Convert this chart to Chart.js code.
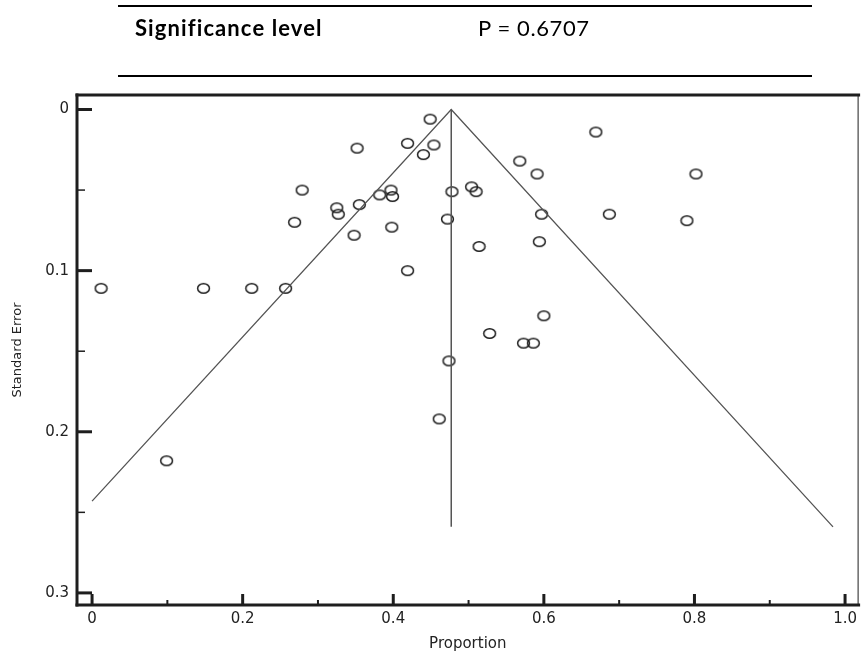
<!DOCTYPE html>
<html>
<head>
<meta charset="utf-8">
<script src="https://cdn.jsdelivr.net/npm/chart.js@4.4.1/dist/chart.umd.min.js"></script>
<style>
  html, body { margin: 0; padding: 0; background: #fff; }
  #wrap { position: relative; width: 862px; height: 651px; overflow: hidden; }
  #funnel { position: absolute; left: 0; top: 0; }
  .rule { position: absolute; left: 118px; width: 694px; height: 2px; background: #000; }
  .hdr { position: absolute; top: 17px; font-family: Lato, "Noto Sans", sans-serif; font-size: 22px; line-height: 21px; color: #000; white-space: nowrap; }
</style>
</head>
<body>
<div id="wrap">
  <canvas id="funnel" width="862" height="651"></canvas>
  <div class="rule" style="top:5px"></div>
  <div class="rule" style="top:75px"></div>
  <div class="hdr" style="left:135px;font-weight:bold;letter-spacing:1.1px">Significance level</div>
  <div class="hdr" style="left:478px;letter-spacing:0.6px">P = 0.6707</div>
</div>
<script>
// study proportions and their standard errors
const proportions = [0.012, 0.148, 0.212, 0.257, 0.099, 0.269, 0.279, 0.325, 0.327, 0.352,
  0.355, 0.348, 0.382, 0.397, 0.399, 0.398, 0.419, 0.419, 0.440, 0.449,
  0.454, 0.472, 0.478, 0.504, 0.510, 0.514, 0.528, 0.568, 0.591, 0.597,
  0.594, 0.600, 0.573, 0.586, 0.474, 0.461, 0.669, 0.687, 0.802, 0.790];
const stdErrors = [0.111, 0.111, 0.111, 0.111, 0.218, 0.070, 0.050, 0.061, 0.065, 0.024,
  0.059, 0.078, 0.053, 0.050, 0.054, 0.073, 0.021, 0.100, 0.028, 0.006,
  0.022, 0.068, 0.051, 0.048, 0.051, 0.085, 0.139, 0.032, 0.040, 0.065,
  0.082, 0.128, 0.145, 0.145, 0.156, 0.192, 0.014, 0.065, 0.040, 0.069];

// pooled estimate and the 95% limits (left limit stops at 0)
const funnelX = [0, 0.477, 0.984];
const funnelY = [0.243, 0, 0.259];
const pooledX = [0.477, 0.477];
const pooledY = [0, 0.259];

const xTicks = [0, 0.2, 0.4, 0.6, 0.8, 1.0];
const xMinor = [0.1, 0.3, 0.5, 0.7, 0.9];
const yTicks = [0, 0.1, 0.2, 0.3];
const yMinor = [0.05, 0.15, 0.25];

const ink = "#1e1e1e";
const axisFont = { family: "'DejaVu Sans', sans-serif", size: 15 };

// open ellipse marker, a bit wider than tall like the original
function ring() {
  const c = document.createElement("canvas");
  c.width = 15;
  c.height = 13;
  const g = c.getContext("2d");
  g.strokeStyle = ink;
  g.lineWidth = 1.5;
  g.beginPath();
  g.ellipse(7.5, 6.5, 5.9, 4.8, 0, 0, Math.PI * 2);
  g.stroke();
  return c;
}

function zip(xs, ys) {
  return xs.map((v, i) => ({ x: v, y: ys[i] }));
}

// box around the plot plus inward tick marks
const frame = {
  id: "frame",
  afterDraw(chart) {
    const { ctx, chartArea: a } = chart;
    const x = chart.scales.x;
    const y = chart.scales.y;
    const seg = (x1, y1, x2, y2) => {
      ctx.beginPath();
      ctx.moveTo(x1, y1);
      ctx.lineTo(x2, y2);
      ctx.stroke();
    };
    ctx.save();
    ctx.strokeStyle = ink;
    ctx.lineCap = "square";

    ctx.lineWidth = 1;
    seg(a.right - 0.5, a.top, a.right - 0.5, a.bottom);
    ctx.lineWidth = 3;
    seg(a.left, a.top, a.right, a.top);
    seg(a.left, a.top, a.left, a.bottom);
    seg(a.left, a.bottom, a.right, a.bottom);

    ctx.lineCap = "butt";
    ctx.lineWidth = 3;
    yTicks.forEach(v => {
      const p = y.getPixelForValue(v);
      seg(a.left, p, a.left + 15, p);
    });
    xTicks.forEach(v => {
      const p = x.getPixelForValue(v);
      seg(p, a.bottom, p, a.bottom - 11);
    });
    ctx.lineWidth = 1.5;
    yMinor.forEach(v => {
      const p = y.getPixelForValue(v);
      seg(a.left, p, a.left + 8, p);
    });
    ctx.lineWidth = 2;
    xMinor.forEach(v => {
      const p = x.getPixelForValue(v);
      seg(p, a.bottom, p, a.bottom - 5);
    });
    ctx.restore();
  }
};

new Chart(document.getElementById("funnel"), {
  type: "scatter",
  data: {
    datasets: [
      {
        type: "line",
        data: zip(funnelX, funnelY),
        borderColor: "#555",
        borderWidth: 1.3,
        pointRadius: 0,
        fill: false
      },
      {
        type: "line",
        data: zip(pooledX, pooledY),
        borderColor: "#555",
        borderWidth: 1.5,
        pointRadius: 0,
        fill: false
      },
      {
        data: zip(proportions, stdErrors),
        pointStyle: ring(),
        pointRadius: 6
      }
    ]
  },
  options: {
    responsive: false,
    animation: false,
    layout: { autoPadding: false, padding: { top: 95, right: 1, bottom: 0, left: 0 } },
    plugins: { legend: { display: false }, tooltip: { enabled: false } },
    scales: {
      x: {
        type: "linear",
        position: "bottom",
        min: -0.02,
        max: 1.018,
        grid: { display: false, drawTicks: false },
        border: { display: false },
        afterBuildTicks: s => { s.ticks = xTicks.map(v => ({ value: v })); },
        afterFit: s => { s.height = 46; },
        ticks: {
          padding: 5,
          color: "#222",
          font: axisFont,
          maxRotation: 0,
          callback: v => (v === 0 ? "0" : v.toFixed(1))
        },
        title: {
          display: true,
          text: "Proportion",
          color: "#222",
          font: axisFont,
          padding: { top: 0, bottom: -2 }
        }
      },
      y: {
        type: "linear",
        reverse: true,
        min: -0.009,
        max: 0.3075,
        grid: { display: false, drawTicks: false },
        border: { display: false },
        afterBuildTicks: s => { s.ticks = yTicks.map(v => ({ value: v })); },
        afterFit: s => { s.width = 77; },
        ticks: {
          padding: 8,
          color: "#222",
          font: axisFont,
          callback: v => (v === 0 ? "0" : v.toFixed(1))
        },
        title: {
          display: true,
          text: "Standard Error",
          color: "#222",
          font: { family: "'DejaVu Sans', sans-serif", size: 13 },
          padding: { top: 10, bottom: 0 }
        }
      }
    }
  },
  plugins: [frame]
});
</script>
</body>
</html>
